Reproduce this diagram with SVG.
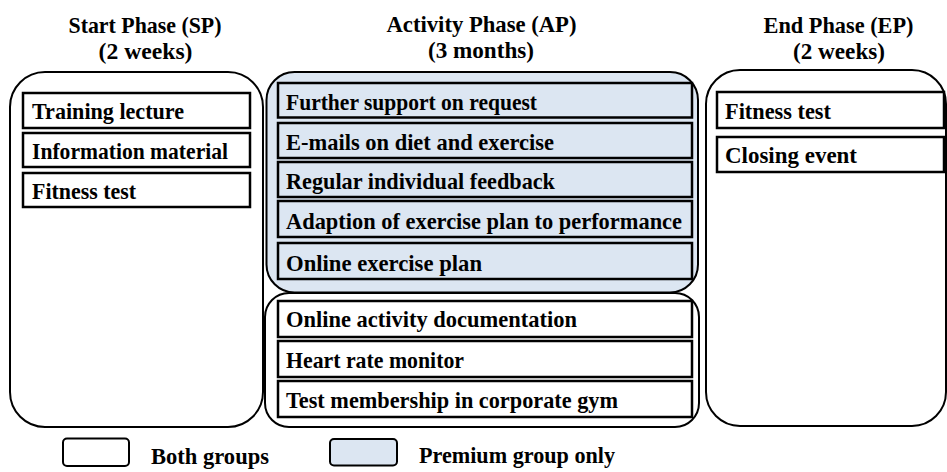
<svg xmlns="http://www.w3.org/2000/svg" width="947" height="472" viewBox="0 0 947 472">
<style>
  .container { fill: #ffffff; stroke: #000000; stroke-width: 2; }
  .container.premium { fill: #dce6f2; }
  .item { fill: #ffffff; stroke: #000000; stroke-width: 2.5; }
  .item.premium { fill: #dce6f2; }
  .label { font-family: "Liberation Serif", "Times New Roman", serif; font-weight: bold; font-size: 24px; fill: #000000; }
  .title { font-family: "Liberation Serif", "Times New Roman", serif; font-weight: bold; font-size: 24px; fill: #000000; text-anchor: middle; }
  .legend-box { stroke: #000000; stroke-width: 2; }
</style>
<rect width="947" height="472" fill="#ffffff"/>

<g id="start-phase">
  <text class="title" x="145" y="33" textLength="153" lengthAdjust="spacingAndGlyphs">Start Phase (SP)</text>
  <text class="title" x="145.5" y="59" textLength="94" lengthAdjust="spacingAndGlyphs">(2 weeks)</text>
  <rect class="container" x="10" y="72" width="253" height="355" rx="35" ry="35"/>
  <g id="sp-training">
    <rect class="item" x="23" y="93" width="227" height="35"/>
    <text class="label" x="32" y="119" textLength="152" lengthAdjust="spacingAndGlyphs">Training lecture</text>
  </g>
  <g id="sp-information">
    <rect class="item" x="23" y="133" width="227" height="34"/>
    <text class="label" x="32" y="159" textLength="196" lengthAdjust="spacingAndGlyphs">Information material</text>
  </g>
  <g id="sp-fitness">
    <rect class="item" x="23" y="173" width="227" height="34"/>
    <text class="label" x="32" y="199" textLength="104" lengthAdjust="spacingAndGlyphs">Fitness test</text>
  </g>
</g>

<g id="activity-phase">
  <text class="title" x="481.5" y="32" textLength="190" lengthAdjust="spacingAndGlyphs">Activity Phase (AP)</text>
  <text class="title" x="481" y="58" textLength="106" lengthAdjust="spacingAndGlyphs">(3 months)</text>
  <g id="ap-premium">
    <rect class="container premium" x="266.5" y="72" width="431.5" height="220.5" rx="28" ry="28"/>
    <g id="ap-support">
      <rect class="item premium" x="278" y="83" width="414" height="34.5"/>
      <text class="label" x="286" y="109.5" textLength="251" lengthAdjust="spacingAndGlyphs">Further support on request</text>
    </g>
    <g id="ap-emails">
      <rect class="item premium" x="278" y="123" width="414" height="35"/>
      <text class="label" x="286" y="150" textLength="268" lengthAdjust="spacingAndGlyphs">E-mails on diet and exercise</text>
    </g>
    <g id="ap-feedback">
      <rect class="item premium" x="278" y="162" width="414" height="35"/>
      <text class="label" x="286" y="189" textLength="269" lengthAdjust="spacingAndGlyphs">Regular individual feedback</text>
    </g>
    <g id="ap-adaption">
      <rect class="item premium" x="278" y="201" width="414" height="36"/>
      <text class="label" x="286" y="228.5" textLength="396" lengthAdjust="spacingAndGlyphs">Adaption of exercise plan to performance</text>
    </g>
    <g id="ap-plan">
      <rect class="item premium" x="278" y="243" width="414" height="36"/>
      <text class="label" x="286" y="270.5" textLength="196" lengthAdjust="spacingAndGlyphs">Online exercise plan</text>
    </g>
  </g>
  <g id="ap-both">
    <rect class="container" x="265" y="293" width="434" height="134" rx="24" ry="24"/>
    <g id="ap-documentation">
      <rect class="item" x="278" y="301" width="414" height="36"/>
      <text class="label" x="286" y="327" textLength="291" lengthAdjust="spacingAndGlyphs">Online activity documentation</text>
    </g>
    <g id="ap-heart">
      <rect class="item" x="278" y="341" width="414" height="36"/>
      <text class="label" x="286" y="367.5" textLength="178" lengthAdjust="spacingAndGlyphs">Heart rate monitor</text>
    </g>
    <g id="ap-gym">
      <rect class="item" x="278" y="381" width="414" height="36"/>
      <text class="label" x="286" y="408" textLength="332" lengthAdjust="spacingAndGlyphs">Test membership in corporate gym</text>
    </g>
  </g>
</g>

<g id="end-phase">
  <text class="title" x="838.5" y="33" textLength="150" lengthAdjust="spacingAndGlyphs">End Phase (EP)</text>
  <text class="title" x="839" y="59" textLength="92" lengthAdjust="spacingAndGlyphs">(2 weeks)</text>
  <rect class="container" x="706" y="70" width="240" height="356" rx="34" ry="34"/>
  <g id="ep-fitness">
    <rect class="item" x="717" y="92" width="227" height="36"/>
    <text class="label" x="725" y="119" textLength="106" lengthAdjust="spacingAndGlyphs">Fitness test</text>
  </g>
  <g id="ep-closing">
    <rect class="item" x="717" y="137" width="227" height="35"/>
    <text class="label" x="725" y="163" textLength="132" lengthAdjust="spacingAndGlyphs">Closing event</text>
  </g>
</g>

<g id="connectors"></g>

<g id="legend">
  <g id="legend-both">
    <rect class="legend-box" x="63" y="438.5" width="66" height="27.5" rx="4" ry="4" fill="#ffffff"/>
    <text class="label" x="151" y="464" textLength="118" lengthAdjust="spacingAndGlyphs">Both groups</text>
  </g>
  <g id="legend-premium">
    <rect class="legend-box" x="330" y="439" width="67" height="26.5" rx="4" ry="4" fill="#dce6f2"/>
    <text class="label" x="419" y="463" textLength="196" lengthAdjust="spacingAndGlyphs">Premium group only</text>
  </g>
</g>
</svg>
